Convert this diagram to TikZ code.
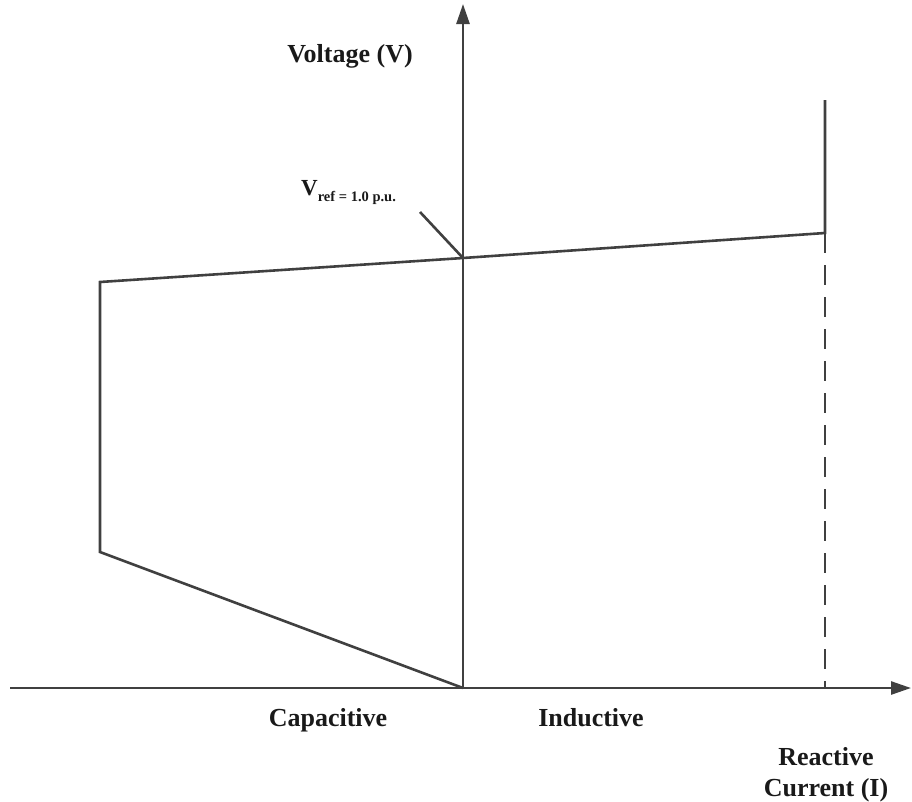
\documentclass[tikz,border=0pt]{standalone}
\usepackage{fontspec}
\setmainfont{Liberation Serif}
\usetikzlibrary{arrows.meta}
\begin{document}
\begin{tikzpicture}[x=1pt,y=-1pt,
  ln/.style={line width=2.6pt,draw=black!75},
  axarrow/.style={ln,-{Triangle[length=20pt,width=13pt]}},
  lbl/.style={font=\fontsize{26}{29}\selectfont\bfseries,text=black!90,inner sep=0pt,anchor=base},
  dsh/.style={ln,dash pattern=on 20pt off 12pt}]
\useasboundingbox (0,0) rectangle (912,801);
\coordinate (O) at (463,688);
\coordinate (XL) at (10,688);
\coordinate (XR) at (911,688);
\coordinate (YT) at (463,4);
\coordinate (A) at (100,282);
\coordinate (B) at (100,552);
\coordinate (M) at (463,258);
\coordinate (C) at (825,233);
\coordinate (D) at (825,100);
\coordinate (E) at (825,688);
\coordinate (L) at (420,212);
% axes
\draw[axarrow] (XL) -- (XR);
\draw[axarrow] (O) -- (YT);
% characteristic
\draw[ln,line join=miter] (O) -- (B) -- (A) -- (M) -- (C) -- (D);
\draw[dsh] (C) -- (E);
\draw[ln] (L) -- (M);
% labels
\node[lbl] (vlab) at (350,62) {Voltage (V)};
\node[lbl] (cap) at (328,726) {Capacitive};
\node[lbl] (ind) at (591,726) {Inductive};
\node[lbl] (rea) at (826,765) {Reactive};
\node[lbl] (cur) at (826,796) {Current (I)};
\node[inner sep=0pt,anchor=base west,text=black!90] (vref) at (301,195)
  {\fontsize{23}{26}\selectfont\bfseries V\raisebox{-6pt}{\fontsize{14.5}{16}\selectfont ref = 1.0 p.u.}};
\end{tikzpicture}
\end{document}
